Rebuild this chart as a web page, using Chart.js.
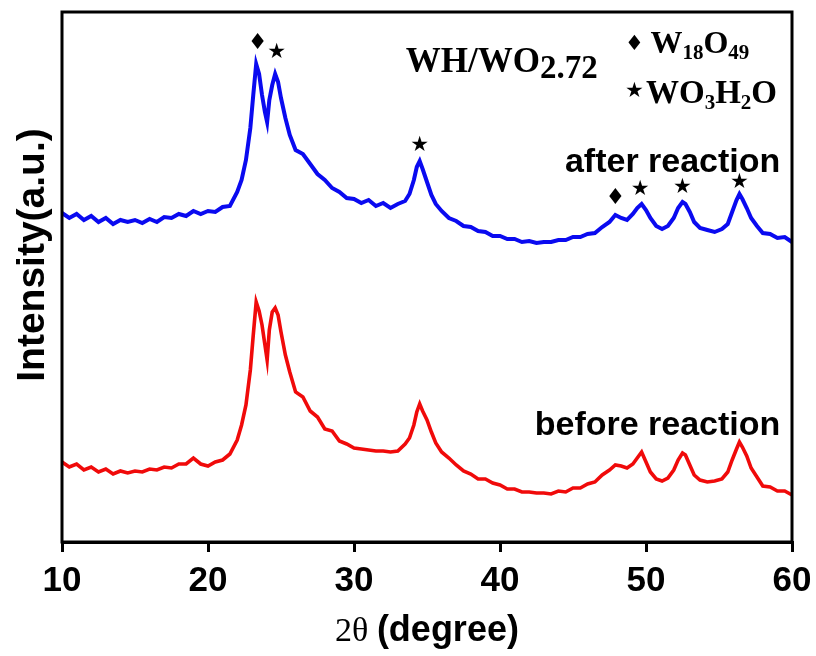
<!DOCTYPE html>
<html>
<head>
<meta charset="utf-8">
<script src="https://cdn.jsdelivr.net/npm/chart.js@4.4.1/dist/chart.umd.min.js"></script>
<style>
  html, body { margin: 0; padding: 0; background: #ffffff; }
  #wrap { width: 816px; height: 656px; }
</style>
</head>
<body>
<div id="wrap"><canvas id="c" width="816" height="656"></canvas></div>
<script>
// ---- data ----
const twoTheta = [
  10, 10.5, 11, 11.5, 12, 12.5, 13, 13.5, 14, 14.5,
  15, 15.5, 16, 16.5, 17, 17.5, 18, 18.5, 19, 19.5,
  20, 20.5, 21, 21.5, 22, 22.3, 22.6, 22.9, 23.1, 23.3,
  23.5, 23.7, 23.9, 24.05, 24.2, 24.4, 24.6, 24.8, 25.0, 25.3,
  25.6, 26, 26.5, 27, 27.5, 28, 28.5, 29, 29.5, 30,
  30.5, 31, 31.5, 32, 32.5, 33, 33.5, 33.8, 34.1, 34.3,
  34.5, 34.7, 35, 35.3, 35.6, 36, 36.5, 37, 37.5, 38,
  38.5, 39, 39.5, 40, 40.5, 41, 41.5, 42, 42.5, 43,
  43.5, 44, 44.5, 45, 45.5, 46, 46.5, 47, 47.5, 47.9,
  48.3, 48.7, 49.1, 49.4, 49.7, 50, 50.3, 50.7, 51.1, 51.5,
  51.9, 52.2, 52.5, 52.7, 53, 53.3, 53.7, 54.2, 54.7, 55.2,
  55.6, 55.9, 56.2, 56.4, 56.6, 56.9, 57.2, 57.6, 58, 58.5,
  59, 59.5, 60
];
const afterReaction = [
  329, 324, 328, 322, 326, 320, 324, 318, 322, 320,
  322, 319, 323, 320, 325, 324, 328, 326, 331, 328,
  331, 330, 335, 336, 350, 362, 382, 414, 447, 478,
  468, 447, 430, 420, 442, 457, 468, 460, 444, 424,
  407, 392, 388, 378, 368, 362, 354, 350, 344, 343,
  339, 342, 336, 339, 334, 338, 341, 348, 362, 375,
  381, 373, 360, 347, 338, 331, 324, 321, 316, 315,
  311, 310, 306, 306, 303, 303, 300, 301, 299, 300,
  300, 302, 302, 305, 305, 308, 309, 315, 320, 327,
  324, 322, 328, 334, 338, 332, 324, 316, 313, 316,
  324, 334, 340, 338, 330, 320, 314, 312, 310, 313,
  318, 330, 342, 348, 343, 334, 324, 316, 309, 308,
  304, 305, 300
];
const beforeReaction = [
  80, 75, 78, 72, 75, 70, 73, 68, 71, 69,
  71, 70, 73, 72, 75, 74, 78, 78, 84, 78,
  76, 80, 82, 88, 102, 117, 137, 172, 207, 240,
  231, 217, 197, 182, 212, 230, 234, 227, 210, 187,
  170, 150, 145, 131, 125, 113, 111, 101, 98, 94,
  93, 92, 91, 91, 90, 91, 98, 104, 117, 130,
  138, 131, 122, 110, 99, 90, 84, 77, 71, 68,
  63, 63, 59, 57, 53, 53, 50, 50, 49, 49,
  48, 51, 50, 54, 54, 58, 60, 67, 72, 77,
  76, 74, 78, 84, 90, 80, 70, 63, 61, 64,
  72, 82, 89, 87, 77, 67, 62, 60, 61, 63,
  70, 82, 93, 100, 95, 86, 74, 65, 56, 55,
  51, 51, 47
];
const xTicks = [10, 20, 30, 40, 50, 60];
const seriesNames = ['after reaction', 'before reaction'];
const phaseMarks = ['\u2666', '\u2605']; // diamond: W18O49, star: WO3H2O
const peakMarkAt = [23.4, 24.7, 34.5, 47.9, 49.6, 52.5, 56.4];
const peakMarkY  = [499, 489, 396, 344, 352, 354, 359];
const peakMarkKind = [0, 1, 1, 0, 1, 1, 1];

// ---- helpers ----
function drawRuns(ctx, x, y, runs) {
  let cx = x;
  for (const r of runs) {
    ctx.font = r.font;
    ctx.fillText(r.t, cx, y + (r.dy || 0));
    cx += ctx.measureText(r.t).width;
  }
}

const decor = {
  id: 'decor',
  afterDraw(chart) {
    const ctx = chart.ctx;
    const a = chart.chartArea;
    const xs = chart.scales.x, ys = chart.scales.y;
    ctx.save();
    // frame
    ctx.strokeStyle = '#000';
    ctx.lineWidth = 3;
    ctx.strokeRect(a.left, a.top, a.right - a.left, a.bottom - a.top);

    ctx.fillStyle = '#000';
    ctx.textBaseline = 'middle';
    ctx.textAlign = 'center';
    // peak markers
    for (let i = 0; i < peakMarkAt.length; i++) {
      const px = xs.getPixelForValue(peakMarkAt[i]);
      const py = ys.getPixelForValue(peakMarkY[i]);
      ctx.font = peakMarkKind[i] === 0 ? '22px "DejaVu Sans"' : '21px "DejaVu Sans"';
      ctx.fillText(phaseMarks[peakMarkKind[i]], px, py);
    }

    // series labels (right aligned)
    ctx.textAlign = 'right';
    ctx.textBaseline = 'alphabetic';
    ctx.font = 'bold 34px "Liberation Sans", Arial, sans-serif';
    ctx.fillText(seriesNames[0], xs.getPixelForValue(59.2), ys.getPixelForValue(370));
    ctx.fillText(seriesNames[1], xs.getPixelForValue(59.2), ys.getPixelForValue(107));

    // sample title
    ctx.textAlign = 'left';
    const serifB = (s) => 'bold ' + s + 'px "Liberation Serif", "Times New Roman", serif';
    drawRuns(ctx, xs.getPixelForValue(33.55), ys.getPixelForValue(470), [
      { t: 'WH/WO', font: serifB(35) },
      { t: '2.72', font: serifB(33), dy: 6 }
    ]);
    // legend of phases
    ctx.textAlign = 'center';
    ctx.textBaseline = 'middle';
    ctx.font = '21px "DejaVu Sans"';
    ctx.fillText(phaseMarks[0], xs.getPixelForValue(49.2), ys.getPixelForValue(497));
    ctx.fillText(phaseMarks[1], xs.getPixelForValue(49.2), ys.getPixelForValue(450));
    ctx.textAlign = 'left';
    ctx.textBaseline = 'alphabetic';
    drawRuns(ctx, xs.getPixelForValue(50.3), ys.getPixelForValue(489), [
      { t: 'W', font: serifB(32) },
      { t: '18', font: serifB(21), dy: 6 },
      { t: 'O', font: serifB(32) },
      { t: '49', font: serifB(21), dy: 6 }
    ]);
    drawRuns(ctx, xs.getPixelForValue(50.0), ys.getPixelForValue(439), [
      { t: 'WO', font: serifB(33) },
      { t: '3', font: serifB(21), dy: 6 },
      { t: 'H', font: serifB(33) },
      { t: '2', font: serifB(21), dy: 6 },
      { t: 'O', font: serifB(33) }
    ]);

    // y axis title
    ctx.save();
    ctx.translate(44, (a.top + a.bottom) / 2 - 22);
    ctx.rotate(-Math.PI / 2);
    ctx.textAlign = 'center';
    ctx.textBaseline = 'alphabetic';
    ctx.font = 'bold 39px "Liberation Sans", Arial, sans-serif';
    ctx.fillText('Intensity(a.u.)', 0, 0);
    ctx.restore();

    // x axis title: "2θ (degree)"
    const f1 = '34px "Liberation Serif", "Times New Roman", serif';
    const f2 = 'bold 36px "Liberation Sans", Arial, sans-serif';
    ctx.font = f1; const w1 = ctx.measureText('2\u03B8 ').width;
    ctx.font = f2; const w2 = ctx.measureText('(degree)').width;
    const cx = (a.left + a.right) / 2;
    const startX = cx - (w1 + w2) / 2;
    drawRuns(ctx, startX, 641, [
      { t: '2\u03B8 ', font: f1 },
      { t: '(degree)', font: f2 }
    ]);
    ctx.restore();
  }
};

new Chart(document.getElementById('c'), {
  type: 'line',
  data: {
    datasets: [
      {
        label: seriesNames[0],
        data: twoTheta.map((x, i) => ({ x: x, y: afterReaction[i] })),
        borderColor: '#0a0af0',
        borderWidth: 4,
        pointRadius: 0,
        tension: 0,
        fill: false
      },
      {
        label: seriesNames[1],
        data: twoTheta.map((x, i) => ({ x: x, y: beforeReaction[i] })),
        borderColor: '#f00a0a',
        borderWidth: 3.6,
        pointRadius: 0,
        tension: 0,
        fill: false
      }
    ]
  },
  options: {
    responsive: false,
    devicePixelRatio: 1,
    animation: false,
    layout: { padding: { left: 62, right: 24, top: 12, bottom: 0 } },
    plugins: { legend: { display: false }, tooltip: { enabled: false } },
    scales: {
      x: {
        type: 'linear',
        min: 10, max: 60,
        afterBuildTicks: (s) => { s.ticks = xTicks.map(v => ({ value: v })); },
        afterFit: (s) => { s.height = 114; s.paddingLeft = 0; s.paddingRight = 0; },
        ticks: {
          color: '#000',
          padding: 8,
          font: { family: '"Liberation Sans", Arial, sans-serif', size: 35, weight: 'bold' }
        },
        grid: {
          display: true,
          drawOnChartArea: false,
          drawTicks: true,
          tickLength: 10,
          color: '#000',
          lineWidth: 3
        },
        border: { display: true, color: '#000', width: 3 }
      },
      y: {
        display: false,
        min: 0, max: 530
      }
    }
  },
  plugins: [decor]
});
</script>
</body>
</html>
